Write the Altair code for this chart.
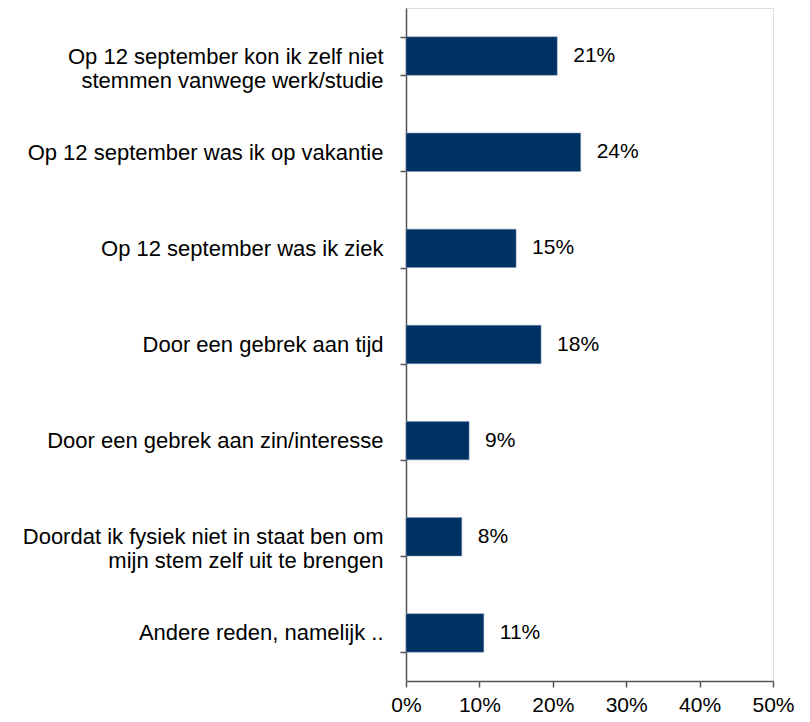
import altair as alt
import pandas as pd

categories = [
    "Op 12 september kon ik zelf niet\nstemmen vanwege werk/studie",
    "Op 12 september was ik op vakantie",
    "Op 12 september was ik ziek",
    "Door een gebrek aan tijd",
    "Door een gebrek aan zin/interesse",
    "Doordat ik fysiek niet in staat ben om\nmijn stem zelf uit te brengen",
    "Andere reden, namelijk ..",
]
values = [0.206, 0.238, 0.150, 0.184, 0.086, 0.076, 0.106]
x_ticks = [0, 0.1, 0.2, 0.3, 0.4, 0.5]

df = pd.DataFrame({"reden": categories, "pct": values})

FONT = "Liberation Sans"

y_enc = alt.Y(
    "reden:N",
    sort=categories,
    title=None,
    scale=alt.Scale(paddingInner=0.6, paddingOuter=0.3),
    axis=alt.Axis(
        labelExpr="split(datum.label, '\\n')",
        labelAlign="right",
        labelFont=FONT,
        labelFontSize=22,
        labelColor="#000000",
        labelLineHeight=24,
        labelPadding=17,
        labelLimit=400,
        tickBand="extent",
        tickSize=6,
        tickColor="#555555",
        domainColor="#555555",
        domainWidth=1.5,
        tickWidth=1.5,
        grid=False,
    ),
)

x_enc = alt.X(
    "pct:Q",
    title=None,
    scale=alt.Scale(domain=[0, 0.5], nice=False),
    axis=alt.Axis(
        format=".0%",
        values=x_ticks,
        labelFont=FONT,
        labelFontSize=21,
        labelColor="#000000",
        labelPadding=7,
        tickSize=6,
        tickColor="#555555",
        domainColor="#555555",
        domainWidth=1.5,
        tickWidth=1.5,
        grid=False,
        labelFlush=False,
    ),
)

base = alt.Chart(df).encode(x=x_enc, y=y_enc)

bars = base.mark_bar(color="#003163", stroke="#7f9bbd", strokeWidth=0.5)
labels = base.mark_text(
    align="left", baseline="middle", dx=16, font=FONT, fontSize=21, color="#000000"
).encode(text=alt.Text("pct:Q", format=".0%"))

chart = (
    (bars + labels)
    .properties(
        width=367,
        height=673,
        padding={"left": 398, "top": 0, "right": 28, "bottom": 33},
        autosize=alt.AutoSizeParams(type="none"),
    )
    .configure_view(strokeWidth=0, strokeOpacity=0)
    .configure(background="#ffffff")
)

chart.save("out.html", embed_options={"renderer": "svg", "actions": False})
